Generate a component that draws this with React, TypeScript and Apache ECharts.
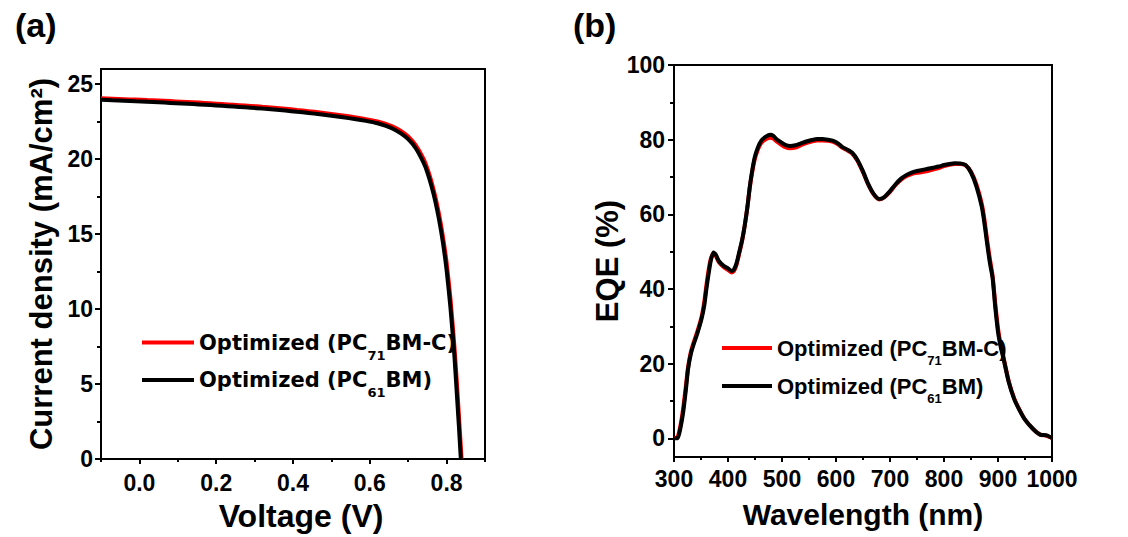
import React, { useEffect, useRef } from "react";
import * as echarts from "echarts";

// ---- J-V curves: [voltage (V), current density (mA/cm2)]
const jvPC71: number[][] = [
  [-0.1, 24.05], [-0.07, 24.02], [-0.04, 23.99], [-0.01, 23.96], [0.02, 23.93],
  [0.05, 23.9], [0.08, 23.86], [0.11, 23.82], [0.14, 23.78], [0.17, 23.74],
  [0.2, 23.69], [0.23, 23.64], [0.26, 23.59], [0.29, 23.54], [0.32, 23.48],
  [0.35, 23.42], [0.38, 23.35], [0.41, 23.27], [0.44, 23.19], [0.47, 23.1],
  [0.5, 23.0], [0.53, 22.9], [0.56, 22.79], [0.59, 22.66], [0.62, 22.5],
  [0.64, 22.35], [0.66, 22.16], [0.68, 21.88], [0.7, 21.5], [0.72, 20.9],
  [0.74, 20.0], [0.75, 19.35], [0.76, 18.55], [0.77, 17.55], [0.78, 16.35],
  [0.79, 14.9], [0.8, 13.1], [0.81, 10.7], [0.82, 7.6], [0.827, 5.0],
  [0.833, 2.5], [0.839, 0],
];
const jvPC61: number[][] = [
  [-0.1, 23.95], [-0.07, 23.91], [-0.04, 23.88], [-0.01, 23.85], [0.02, 23.82],
  [0.05, 23.78], [0.08, 23.74], [0.11, 23.7], [0.14, 23.66], [0.17, 23.62],
  [0.2, 23.57], [0.23, 23.52], [0.26, 23.47], [0.29, 23.42], [0.32, 23.36],
  [0.35, 23.3], [0.38, 23.23], [0.41, 23.15], [0.44, 23.07], [0.47, 22.98],
  [0.5, 22.88], [0.53, 22.78], [0.56, 22.67], [0.59, 22.54], [0.62, 22.38],
  [0.64, 22.22], [0.66, 22.02], [0.68, 21.72], [0.7, 21.32], [0.72, 20.7],
  [0.74, 19.75], [0.75, 19.1], [0.76, 18.25], [0.77, 17.25], [0.78, 16.0],
  [0.79, 14.5], [0.8, 12.6], [0.81, 10.1], [0.82, 7.0], [0.826, 4.6],
  [0.832, 2.2], [0.837, 0],
];

// ---- EQE spectra: [wavelength (nm), EQE (%)]
const eqePC71: number[][] = [
  [302, 0], [307, 0.5], [312, 3.5], [317, 8], [322, 14], [326, 19], [331, 23],
  [336, 25.5], [343, 28.5], [351, 32.5], [356, 36.5], [360, 41], [364, 45],
  [368, 48], [373, 49.5], [377, 49], [383, 47.2], [392, 45.9], [400, 45.1],
  [407, 44.4], [411, 44.8], [416, 46.6], [421, 49.6], [426, 52.8], [431, 57],
  [436, 62], [440, 66.8], [444, 70.6], [449, 74.4], [455, 77.2], [462, 79.2],
  [470, 80.1], [478, 80.5], [484, 80.3], [490, 79.5], [498, 78.7], [506, 78.0],
  [515, 77.7], [525, 77.9], [535, 78.5], [545, 79.1], [555, 79.5], [565, 79.8],
  [575, 79.8], [585, 79.7], [595, 79.4], [605, 78.6], [612, 77.8], [620, 77.2],
  [630, 76.3], [640, 74.3], [650, 71.3], [660, 67.9], [670, 65.3], [680, 64.0],
  [690, 64.6], [700, 66.0], [710, 67.8], [720, 69.2], [730, 70.2], [740, 70.8],
  [750, 71.1], [760, 71.3], [770, 71.6], [780, 72.0], [790, 72.4], [800, 72.9],
  [810, 73.3], [820, 73.5], [830, 73.5], [840, 73.1], [850, 71.4], [860, 68.0],
  [870, 62.8], [875, 58.5], [880, 53.0], [885, 48.0], [890, 43.5], [895, 36.0],
  [900, 29.5], [905, 25.0], [910, 21.8], [920, 15.2], [930, 10.7], [940, 7.6],
  [950, 5.0], [965, 2.5], [978, 1.0], [990, 0.7], [1000, 0.1],
];
const eqePC61: number[][] = [
  [302, 0], [307, 0], [312, 2.8], [317, 7], [322, 13], [326, 18.5], [331, 22.5],
  [336, 25], [343, 28], [351, 32], [356, 35.5], [360, 40], [364, 44],
  [368, 47.5], [373, 49.8], [377, 49.3], [383, 47.5], [392, 46.2], [400, 45.5],
  [407, 44.8], [411, 45.2], [416, 47], [421, 50], [426, 53], [431, 57],
  [436, 62], [440, 67], [444, 71], [449, 75], [455, 77.8], [462, 79.8],
  [470, 80.8], [478, 81.3], [484, 81.0], [490, 80.1], [498, 79.3], [506, 78.6],
  [515, 78.3], [525, 78.5], [535, 79.0], [545, 79.5], [555, 79.9], [565, 80.2],
  [575, 80.2], [585, 80.0], [595, 79.7], [605, 78.9], [612, 78.0], [620, 77.4],
  [630, 76.5], [640, 74.5], [650, 71.5], [660, 68.0], [670, 65.4], [680, 64.1],
  [690, 64.7], [700, 66.2], [710, 68.0], [720, 69.5], [730, 70.5], [740, 71.2],
  [750, 71.6], [760, 71.9], [770, 72.2], [780, 72.5], [790, 72.8], [800, 73.2],
  [810, 73.5], [820, 73.7], [830, 73.6], [840, 73.2], [850, 71.2], [860, 67.5],
  [870, 62.0], [875, 57.5], [880, 52.0], [885, 47.0], [890, 43.0], [895, 35.0],
  [900, 28.5], [905, 24.5], [910, 21.5], [920, 15.0], [930, 10.5], [940, 7.5],
  [950, 5.0], [965, 2.5], [978, 1.0], [990, 0.8], [1000, 0.1],
];

// ---- tick positions
const voltageTicks = [0, 0.2, 0.4, 0.6, 0.8];
const voltageMinor = [-0.1, 0.1, 0.3, 0.5, 0.7, 0.9];
const currentTicks = [0, 5, 10, 15, 20, 25];
const currentMinor = [2.5, 7.5, 12.5, 17.5, 22.5];
const waveTicks = [300, 400, 500, 600, 700, 800, 900, 1000];
const waveMinor = [350, 450, 550, 650, 750, 850, 950];
const eqeTicks = [0, 20, 40, 60, 80, 100];
const eqeMinor = [10, 30, 50, 70, 90];

const NAME_71 = "Optimized (PC71BM-C)";
const NAME_61 = "Optimized (PC61BM)";
const RED = "#ff0000";
const BLACK = "#000000";
const FONT = "Liberation Sans, Arial, sans-serif";

const legendLabel = (name: string) =>
  name === NAME_71
    ? "{t|Optimized (PC}{s|71}{t|BM-C)}"
    : "{t|Optimized (PC}{s|61}{t|BM)}";

// main text is centred in a tall line box; the subscript sits at the box bottom
function legendRich(family: string, size: number) {
  return {
    t: { fontFamily: family, fontWeight: "bold", fontSize: size, lineHeight: 38, verticalAlign: "middle", color: BLACK },
    s: { fontFamily: family, fontWeight: "bold", fontSize: 13, lineHeight: 14, verticalAlign: "bottom", color: BLACK },
  };
}

const labelStyle = { fontFamily: FONT, fontWeight: "bold", fontSize: 23, color: BLACK };

function majorX(grid: number, min: number, max: number, ticks: number[], name: string, fmt: (v: number) => string, margin: number, gap: number, nameSize: number, shift: number) {
  return {
    type: "value", gridIndex: grid, min, max, position: "bottom",
    name, nameLocation: "middle", nameGap: gap,
    nameTextStyle: { fontFamily: FONT, fontWeight: "bold", fontSize: nameSize, color: BLACK, padding: [0, 0, 0, shift] },
    axisLine: { show: true, onZero: false, lineStyle: { color: BLACK, width: 2 } },
    axisTick: { show: true, inside: false, length: 5, lineStyle: { color: BLACK, width: 2 }, customValues: ticks },
    axisLabel: { show: true, customValues: ticks, formatter: fmt, margin, ...labelStyle },
    splitLine: { show: false },
  };
}
function minorX(grid: number, min: number, max: number, ticks: number[]) {
  return {
    type: "value", gridIndex: grid, min, max, position: "bottom",
    axisLine: { show: false, onZero: false },
    axisTick: { show: true, inside: false, length: 3, lineStyle: { color: BLACK, width: 2 }, customValues: ticks },
    axisLabel: { show: false },
    splitLine: { show: false },
  };
}
function majorY(grid: number, min: number, max: number, ticks: number[], name: string, gap: number, margin: number) {
  return {
    type: "value", gridIndex: grid, min, max, position: "left",
    name, nameLocation: "middle", nameGap: gap,
    nameTextStyle: { fontFamily: FONT, fontWeight: "bold", fontSize: 31, color: BLACK },
    axisLine: { show: true, onZero: false, lineStyle: { color: BLACK, width: 2 } },
    axisTick: { show: true, inside: false, length: 6, lineStyle: { color: BLACK, width: 2 }, customValues: ticks },
    axisLabel: { show: true, customValues: ticks, margin, ...labelStyle },
    splitLine: { show: false },
  };
}
function minorY(grid: number, min: number, max: number, ticks: number[]) {
  return {
    type: "value", gridIndex: grid, min, max, position: "left",
    axisLine: { show: false, onZero: false },
    axisTick: { show: true, inside: false, length: 4, lineStyle: { color: BLACK, width: 2 }, customValues: ticks },
    axisLabel: { show: false },
    splitLine: { show: false },
  };
}

function lineSeries(name: string, color: string, xi: number, yi: number, data: number[][], z: number) {
  return {
    type: "line", name, xAxisIndex: xi, yAxisIndex: yi, data,
    showSymbol: false, smooth: 0.2, z,
    lineStyle: { color, width: 4 }, itemStyle: { color },
  };
}

export default function App() {
  const ref = useRef<HTMLDivElement>(null);

  useEffect(() => {
    if (!ref.current) return;
    const chart = echarts.init(ref.current, undefined, { renderer: "svg" });
    const option = {
      animation: false,
      backgroundColor: "#ffffff",
      title: [
        { text: "(a)", left: 10, top: 3, textStyle: { fontFamily: FONT, fontWeight: "bold", fontSize: 34, color: BLACK } },
        { text: "(b)", left: 568, top: 3, textStyle: { fontFamily: FONT, fontWeight: "bold", fontSize: 34, color: BLACK } },
      ],
      grid: [
        { left: 101, top: 69, width: 384, height: 391, show: true, borderColor: BLACK, borderWidth: 2, backgroundColor: "transparent" },
        { left: 674, top: 65, width: 378, height: 392, show: true, borderColor: BLACK, borderWidth: 2, backgroundColor: "transparent" },
      ],
      xAxis: [
        majorX(0, -0.1, 0.9, voltageTicks, "Voltage (V)", (v: number) => v.toFixed(1), 12, 41, 32, 16),
        minorX(0, -0.1, 0.9, voltageMinor),
        majorX(1, 300, 1000, waveTicks, "Wavelength (nm)", (v: number) => String(v), 10, 42, 30, 0),
        minorX(1, 300, 1000, waveMinor),
      ],
      yAxis: [
        majorY(0, 0, 26, currentTicks, "Current density (mA/cm²)", 44, 8),
        minorY(0, 0, 26, currentMinor),
        majorY(1, -5, 100, eqeTicks, "EQE (%)", 46, 9),
        minorY(1, -5, 100, eqeMinor),
      ],
      legend: [
        {
          data: [NAME_71, NAME_61], orient: "vertical", left: 137, top: 327,
          icon: "rect", itemWidth: 52, itemHeight: 4, itemGap: 8, selectedMode: false,
          formatter: legendLabel,
          textStyle: { color: BLACK, rich: legendRich("DejaVu Sans, sans-serif", 21) },
        },
        {
          data: [NAME_71, NAME_61], orient: "vertical", left: 717, top: 332,
          icon: "rect", itemWidth: 50, itemHeight: 4, itemGap: 8, selectedMode: false,
          formatter: legendLabel,
          textStyle: { color: BLACK, rich: legendRich(FONT, 22) },
        },
      ],
      series: [
        lineSeries(NAME_71, RED, 0, 0, jvPC71, 2),
        lineSeries(NAME_61, BLACK, 0, 0, jvPC61, 3),
        lineSeries(NAME_71, RED, 2, 2, eqePC71, 2),
        lineSeries(NAME_61, BLACK, 2, 2, eqePC61, 3),
      ],
    };
    chart.setOption(option as any);
    return () => chart.dispose();
  }, []);

  return (
    <div
      ref={ref}
      style={{ position: "fixed", left: 0, top: 0, width: 1128, height: 537, background: "#fff" }}
    />
  );
}
